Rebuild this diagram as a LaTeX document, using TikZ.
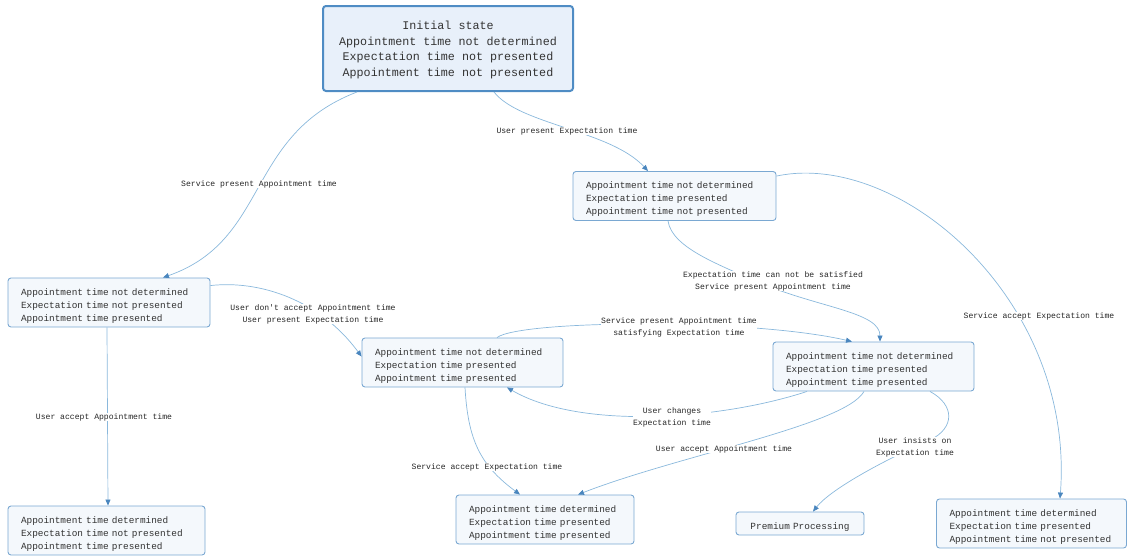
\documentclass[tikz,border=0pt]{standalone}
\usepackage{fontspec}
\setmonofont{Liberation Mono}
\usetikzlibrary{arrows.meta}
\definecolor{boxfill}{HTML}{F4F8FC}
\definecolor{boxline}{HTML}{7AA8D2}
\definecolor{initfill}{HTML}{E8F0FA}
\definecolor{initline}{HTML}{4F8CC4}
\definecolor{edgecol}{HTML}{8AB8DC}
\definecolor{tipcol}{HTML}{4A86BE}
\definecolor{txt}{HTML}{333333}
\newcommand{\tp}{\rule{0pt}{13pt}}
\newcommand{\tpi}{\rule{0pt}{11.5pt}}
\begin{document}
\begin{tikzpicture}[x=1pt,y=-1pt,
  statebox/.style={draw=boxline, fill=boxfill, line width=0.9pt, rounded corners=3pt,
    font=\ttfamily\fontsize{9.4}{13}\selectfont, text=txt, align=left,
    inner xsep=13pt, inner ysep=0pt, minimum height=49pt, anchor=center},
  initbox/.style={draw=initline, fill=initfill, line width=2pt, rounded corners=3pt,
    font=\ttfamily\fontsize{11.7}{15.5}\selectfont, text=txt, align=center,
    minimum width=250pt, minimum height=85pt, inner sep=0pt},
  lbl/.style={font=\ttfamily\fontsize{8.1}{12}\selectfont, text=black!85, align=center,
    fill=white, inner sep=0.5pt},
  edge/.style={draw=edgecol, line width=0.7pt, -{Triangle[length=6pt,width=5pt,fill=tipcol,color=tipcol]}}
]
\useasboundingbox (0,0) rectangle (1127,557);

\node[initbox] (init) at (448,48.5) {\tpi Initial state\\Appointment time not determined\\Expectation time not presented\\Appointment time not presented};
\node[statebox, text width=177pt] (s1) at (674.5,196) {\tp Appointment time not determined\\Expectation time presented\\Appointment time not presented};
\node[statebox, text width=176pt] (s2) at (109,302.5) {\tp Appointment time not determined\\Expectation time not presented\\Appointment time presented};
\node[statebox, text width=175pt] (s3) at (462.5,362.5) {\tp Appointment time not determined\\Expectation time presented\\Appointment time presented};
\node[statebox, text width=175pt] (s4) at (873.5,366.5) {\tp Appointment time not determined\\Expectation time presented\\Appointment time presented};
\node[statebox, text width=171pt] (s5) at (106.5,530.5) {\tp Appointment time determined\\Expectation time not presented\\Appointment time presented};
\node[statebox, text width=152pt] (s6) at (545,519.5) {\tp Appointment time determined\\Expectation time presented\\Appointment time presented};
\node[statebox, text width=102pt, minimum height=23pt, align=center] (prem) at (800,523.5) {\tp Premium Processing};
\node[statebox, text width=164pt] (s7) at (1031.5,523.5) {\tp Appointment time determined\\Expectation time presented\\Appointment time not presented};

% edges
\draw[edge] ([xshift=-91pt]init.south) .. controls (245,135) and (270,240) .. ([xshift=54pt]s2.north);
\draw[edge] ([xshift=46pt]init.south) .. controls (520,125) and (610,130) .. ([xshift=-26.5pt]s1.north);
\draw[edge] ([yshift=-5pt]s1.north east) .. controls (900,150) and (1075,300) .. ([xshift=28.5pt]s7.north);
\draw[edge] ([xshift=-6.5pt]s1.south) .. controls (672,248) and (720,265) .. (760,283) .. controls (820,308) and (880,312) .. ([xshift=6.5pt]s4.north);
\draw[edge] ([yshift=-8pt]s2.north east) .. controls (260,280) and (320,300) .. ([yshift=-19pt]s3.north west);
\draw[edge] ([xshift=-2pt]s2.south) -- ([xshift=1.5pt]s5.north);
\draw[edge] ([xshift=34.5pt]s3.north) .. controls (520,320) and (750,318) .. ([xshift=-21.5pt]s4.north);
\draw[edge] ([xshift=-66.5pt]s4.south) .. controls (720,420) and (580,430) .. ([xshift=44.5pt]s3.south);
\draw[edge] ([xshift=2.5pt]s3.south) .. controls (468,440) and (480,465) .. ([xshift=-25pt]s6.north);
\draw[edge] ([xshift=-9.5pt]s4.south) .. controls (845,425) and (680,455) .. ([xshift=33pt]s6.north);
\draw[edge] ([xshift=56.5pt]s4.south) .. controls (955,405) and (955,428) .. (930,440) .. controls (880,462) and (830,490) .. ([xshift=13pt]prem.north);

% labels
\node[lbl] (l1) at (259,184) {Service present Appointment time};
\node[lbl] (l2) at (567,131) {User present Expectation time};
\node[lbl] (l3) at (1039,316) {Service accept Expectation time};
\node[lbl] (l4) at (773,281) {Expectation time can not be satisfied\\Service present Appointment time};
\node[lbl] (l5) at (313,314) {User don't accept Appointment time\\User present Expectation time};
\node[lbl] (l6) at (104,417) {User accept Appointment time};
\node[lbl] (l7) at (679,327) {Service present Appointment time\\satisfying Expectation time};
\node[lbl] (l8) at (672,417) {User changes\\Expectation time};
\node[lbl] (l9) at (487,467) {Service accept Expectation time};
\node[lbl] (l10) at (724,449) {User accept Appointment time};
\node[lbl] (l11) at (915,447) {User insists on\\Expectation time};
\end{tikzpicture}
\end{document}
